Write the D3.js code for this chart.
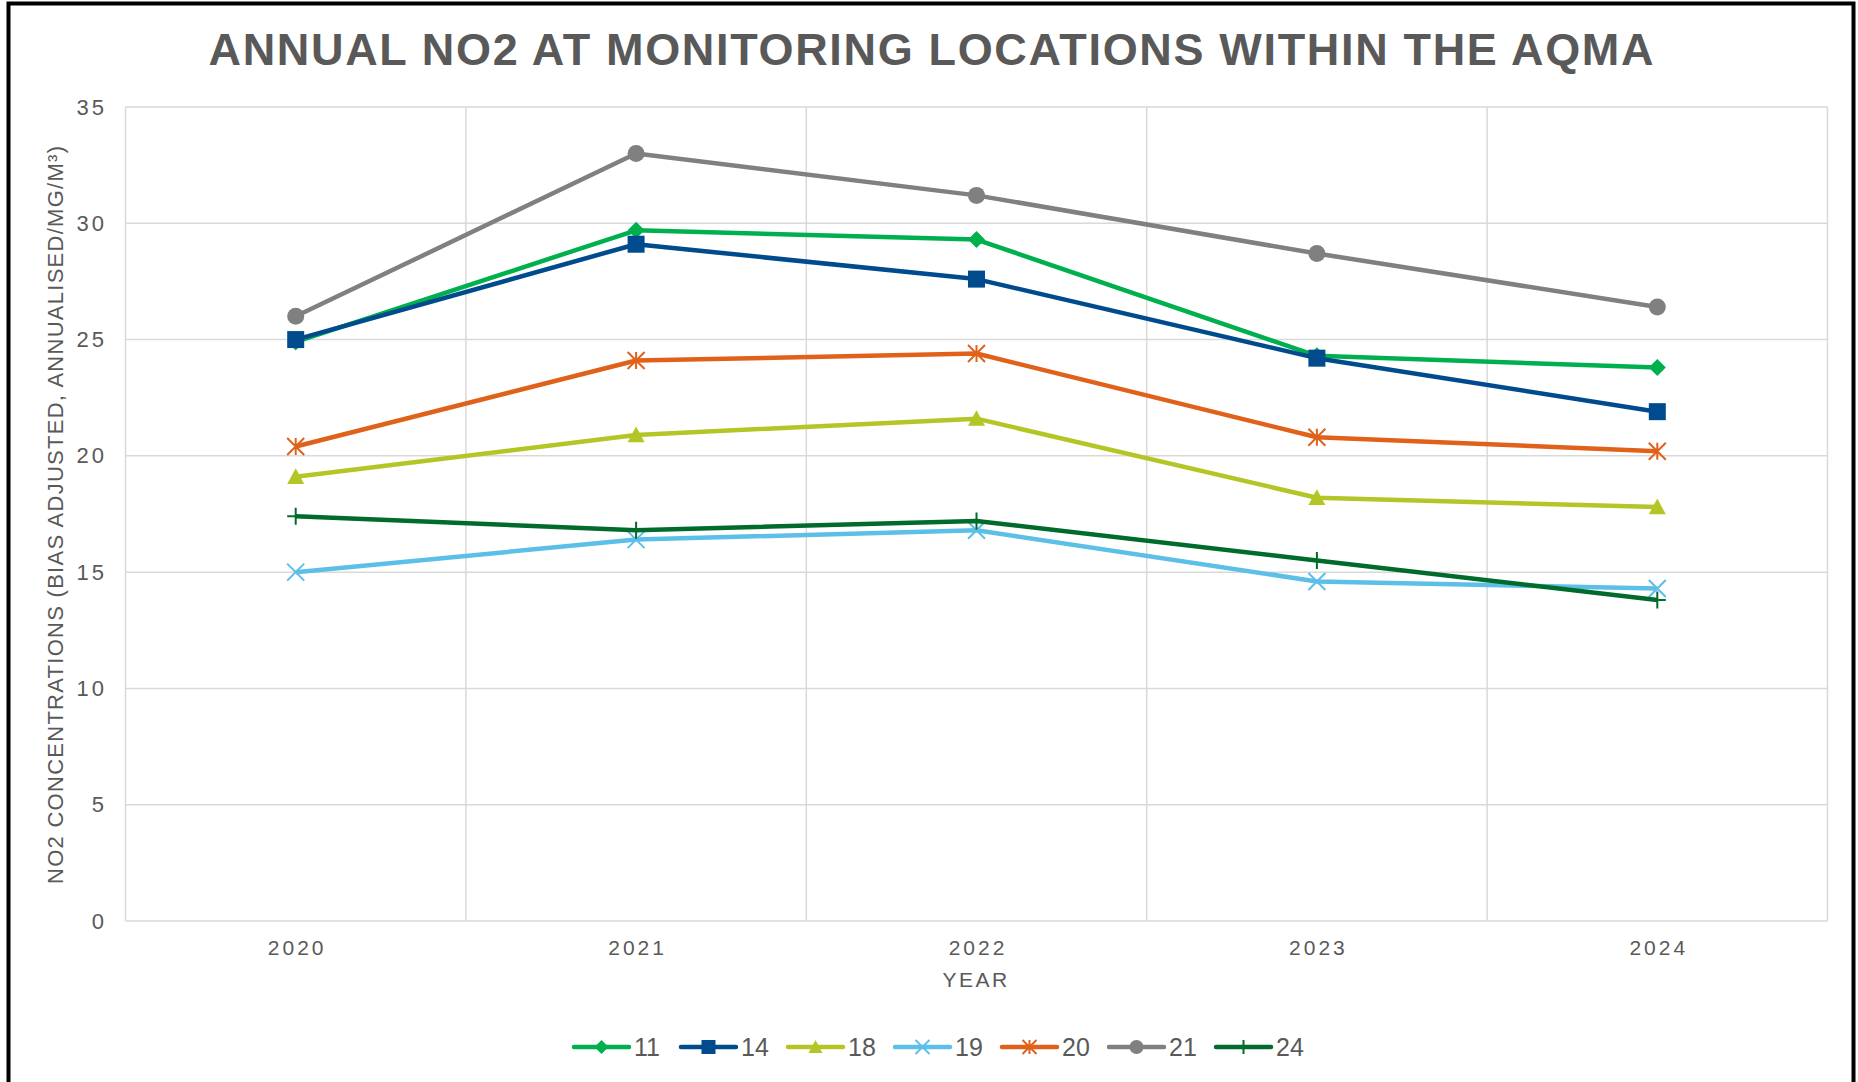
<!DOCTYPE html>
<meta charset="utf-8">
<style>
 body { margin: 0; background: #fff; }
 svg { display: block; }
 text { font-family: "Liberation Sans", Arial, sans-serif; fill: #595959; }
 .grid line { stroke: #d9d9d9; stroke-width: 1.5px; }
</style>
<svg width="1858" height="1082"></svg>
<script src="https://d3js.org/d3.v7.min.js"></script>
<script>

 // data
 var years = ["2020", "2021", "2022", "2023", "2024"];
 var sites = ["11", "14", "18", "19", "20", "21", "24"];
 var s11 = [24.9, 29.7, 29.3, 24.3, 23.8];
 var s14 = [25.0, 29.1, 27.6, 24.2, 21.9];
 var s18 = [19.1, 20.9, 21.6, 18.2, 17.8];
 var s19 = [15.0, 16.4, 16.8, 14.6, 14.3];
 var s20 = [20.4, 24.1, 24.4, 20.8, 20.2];
 var s21 = [26.0, 33.0, 31.2, 28.7, 26.4];
 var s24 = [17.4, 16.8, 17.2, 15.5, 13.8];
 var yTicks = [0, 5, 10, 15, 20, 25, 30, 35];

 var colors = ["#00b04f", "#004b8d", "#b4c526", "#5bbfe8", "#e0611a", "#808080", "#006b2b"];
 var markers = ["diamond", "square", "triangle", "x", "star", "circle", "plus"];
 var values = [s11, s14, s18, s19, s20, s21, s24];

 var svg = d3.select("svg");

 var x = d3.scaleBand().domain(years).range([125.5, 1827.5]);
 var y = d3.scaleLinear().domain([0, 35]).range([921, 107]);
 function cx(d) { return x(d) + x.bandwidth() / 2; }

 // frame
 svg.append("rect")
    .attr("x", 8.5).attr("y", 3.5)
    .attr("width", 1845).attr("height", 1200)
    .attr("fill", "none").attr("stroke", "#000").attr("stroke-width", 4);

 // title
 svg.append("text")
    .attr("x", 931).attr("y", 65)
    .attr("text-anchor", "middle")
    .attr("font-size", 45).attr("font-weight", "bold")
    .attr("textLength", 1445).attr("lengthAdjust", "spacing")
    .text("ANNUAL NO2 AT MONITORING LOCATIONS WITHIN THE AQMA");

 // gridlines
 var grid = svg.append("g").attr("class", "grid");
 grid.selectAll(".h").data(yTicks).enter().append("line")
     .attr("x1", x.range()[0]).attr("x2", x.range()[1])
     .attr("y1", function(d) { return y(d); })
     .attr("y2", function(d) { return y(d); });
 grid.selectAll(".v").data(years.map(function(d) { return x(d); }).concat([x.range()[1]]))
     .enter().append("line")
     .attr("x1", function(d) { return d; }).attr("x2", function(d) { return d; })
     .attr("y1", y(35)).attr("y2", y(0));

 // y tick labels
 svg.append("g").selectAll("text").data(yTicks).enter().append("text")
    .attr("x", 107).attr("y", function(d) { return y(d) + 7.5; })
    .attr("text-anchor", "end")
    .attr("font-size", 22).attr("letter-spacing", 3)
    .text(function(d) { return d; });

 // x tick labels
 svg.append("g").selectAll("text").data(years).enter().append("text")
    .attr("x", function(d) { return cx(d) + 1.5; }).attr("y", 955)
    .attr("text-anchor", "middle")
    .attr("font-size", 21).attr("letter-spacing", 3)
    .text(function(d) { return d; });

 // axis titles
 svg.append("text")
    .attr("x", 976).attr("y", 987)
    .attr("text-anchor", "middle")
    .attr("font-size", 21).attr("letter-spacing", 2.5)
    .text("YEAR");

 svg.append("text")
    .attr("transform", "translate(63,515) rotate(-90)")
    .attr("text-anchor", "middle")
    .attr("font-size", 22)
    .attr("textLength", 738).attr("lengthAdjust", "spacing")
    .text("NO2 CONCENTRATIONS (BIAS ADJUSTED, ANNUALISED/MG/M³)");

 // marker shapes, h = half size
 function markerPath(type, h) {
   switch (type) {
     case "diamond": return "M0," + (-h) + "L" + h + ",0L0," + h + "L" + (-h) + ",0Z";
     case "square": return "M" + (-h) + "," + (-h) + "h" + 2 * h + "v" + 2 * h + "h" + (-2 * h) + "Z";
     case "triangle": return "M0," + (-h) + "L" + h + "," + h * 0.85 + "L" + (-h) + "," + h * 0.85 + "Z";
     case "circle": return d3.symbol(d3.symbolCircle, Math.PI * h * h)();
     case "x": return "M" + (-h) + "," + (-h) + "L" + h + "," + h + "M" + h + "," + (-h) + "L" + (-h) + "," + h;
     case "star": return "M" + (-h) + "," + (-h) + "L" + h + "," + h + "M" + h + "," + (-h) + "L" + (-h) + "," + h +
                         "M0," + (-h) + "V" + h;
     case "plus": return "M0," + (-h) + "V" + h + "M" + (-h) + ",0H" + h;
   }
 }
 function isOpen(type) { return type === "x" || type === "star" || type === "plus"; }

 var line = d3.line()
              .x(function(d, i) { return cx(years[i]); })
              .y(function(d) { return y(d); });

 var series = svg.append("g").selectAll("g")
                 .data(sites.map(function(s, i) { return { name: s, vals: values[i], color: colors[i], marker: markers[i] }; }))
                 .enter().append("g");

 series.append("path")
       .attr("d", function(d) { return line(d.vals); })
       .attr("fill", "none")
       .attr("stroke", function(d) { return d.color; })
       .attr("stroke-width", 4.5)
       .attr("stroke-linejoin", "round");

 series.each(function(s) {
   d3.select(this).selectAll(".m").data(s.vals).enter().append("path")
     .attr("transform", function(d, i) { return "translate(" + cx(years[i]) + "," + y(d) + ")"; })
     .attr("d", markerPath(s.marker, 8.5))
     .attr("fill", isOpen(s.marker) ? "none" : s.color)
     .attr("stroke", s.color)
     .attr("stroke-width", isOpen(s.marker) ? 2 : 0);
 });

 // legend
 var legend = svg.append("g").selectAll("g")
                 .data(sites).enter().append("g")
                 .attr("transform", function(d, i) { return "translate(" + (574 + i * 107) + ",1047)"; });

 legend.append("line")
       .attr("x1", 0).attr("x2", 55)
       .attr("stroke", function(d, i) { return colors[i]; })
       .attr("stroke-width", 4.5).attr("stroke-linecap", "round");

 legend.append("path")
       .attr("transform", "translate(27.5,0)")
       .attr("d", function(d, i) { return markerPath(markers[i], 7); })
       .attr("fill", function(d, i) { return isOpen(markers[i]) ? "none" : colors[i]; })
       .attr("stroke", function(d, i) { return colors[i]; })
       .attr("stroke-width", function(d, i) { return isOpen(markers[i]) ? 2 : 0; });

 legend.append("text")
       .attr("x", 60).attr("y", 9)
       .attr("font-size", 25)
       .text(function(d) { return d; });
</script>
